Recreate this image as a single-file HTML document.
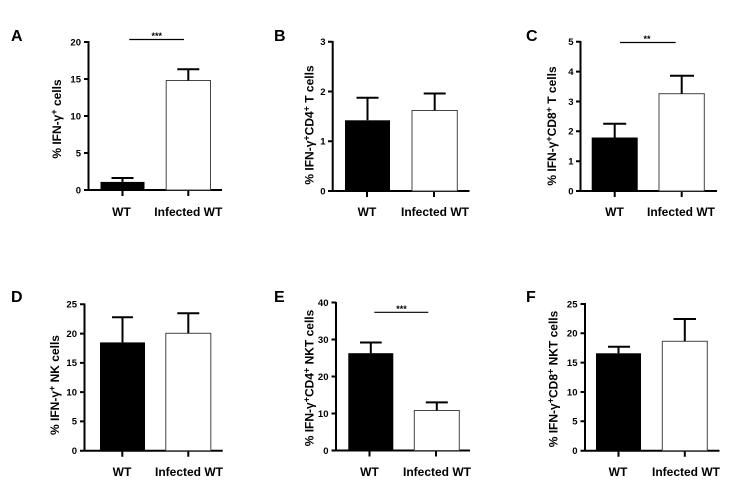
<!DOCTYPE html>
<html><head><meta charset="utf-8"><style>
html,body{margin:0;padding:0;background:#fff;}
svg{display:block;}
text{font-family:"Liberation Sans",Arial,sans-serif;font-weight:bold;fill:#000;}
.t{font-size:9.5px;text-anchor:end;}
.xl{font-size:12px;text-anchor:middle;}
.yl{font-size:12px;text-anchor:middle;}
.pl{font-size:16px;}
.st{font-size:9px;text-anchor:middle;}
.ax{stroke:#000;stroke-width:2;fill:none;}
.eb{stroke:#000;stroke-width:2;fill:none;}
.wb{fill:#fff;stroke:#444;stroke-width:1;}
.bb{fill:#000;}
.sg{stroke:#000;stroke-width:1.2;}
</style></head><body>
<svg width="744" height="503" viewBox="0 0 744 503" xmlns="http://www.w3.org/2000/svg">

<!-- Panel A -->
<text class="pl" x="11" y="41">A</text>
<path class="ax" d="M88.5,41 V190 H222 M84,42 H88.5 M84,79 H88.5 M84,116 H88.5 M84,153 H88.5 M84,190 H88.5 M122.5,190 V196 M188.3,190 V196"/>
<text class="t" x="81" y="45.3">20</text>
<text class="t" x="81" y="82.3">15</text>
<text class="t" x="81" y="119.3">10</text>
<text class="t" x="81" y="156.3">5</text>
<text class="t" x="81" y="193.3">0</text>
<rect class="bb" x="100.5" y="181.9" width="44" height="8.1"/>
<path class="eb" d="M122.5,181.9 V178 M111.5,178 H133.5"/>
<rect class="wb" x="166.2" y="80.5" width="44.3" height="109.5"/>
<path class="eb" d="M188.3,80.5 V69.3 M177.3,69.3 H199.3"/>
<line class="sg" x1="129.3" y1="39.5" x2="184" y2="39.5"/>
<text class="st" x="156.7" y="39">***</text>
<text class="yl" transform="translate(61,119) rotate(-90)">% IFN-γ<tspan font-size="9" dy="-4">+</tspan><tspan dy="4"> cells</tspan></text>
<text class="xl" x="121.5" y="216">WT</text>
<text class="xl" x="188.3" y="216">Infected WT</text>

<!-- Panel B -->
<text class="pl" x="274" y="41">B</text>
<path class="ax" d="M332.7,41 V191 H469.5 M328,41.7 H332.7 M328,91.5 H332.7 M328,141.3 H332.7 M328,191 H332.7 M367,191 V197 M434,191 V197"/>
<text class="t" x="325.5" y="45">3</text>
<text class="t" x="325.5" y="94.8">2</text>
<text class="t" x="325.5" y="144.6">1</text>
<text class="t" x="325.5" y="194.3">0</text>
<rect class="bb" x="345" y="120.3" width="45" height="70.7"/>
<path class="eb" d="M367.5,120.3 V97.7 M356.5,97.7 H378.5"/>
<rect class="wb" x="412" y="110.5" width="45.3" height="80.5"/>
<path class="eb" d="M434.7,110.5 V93.5 M423.7,93.5 H445.7"/>
<text class="yl" transform="translate(313.5,125) rotate(-90)">% IFN-γ<tspan font-size="9" dy="-4">+</tspan><tspan dy="4">CD4</tspan><tspan font-size="9" dy="-4">+</tspan><tspan dy="4"> T cells</tspan></text>
<text class="xl" x="367" y="216">WT</text>
<text class="xl" x="435" y="216">Infected WT</text>

<!-- Panel C -->
<text class="pl" x="526" y="41">C</text>
<path class="ax" d="M580.5,41 V191 H717 M576,41.7 H580.5 M576,71.6 H580.5 M576,101.5 H580.5 M576,131.3 H580.5 M576,161.2 H580.5 M576,191 H580.5 M614.7,191 V197 M681.7,191 V197"/>
<text class="t" x="573.5" y="45">5</text>
<text class="t" x="573.5" y="74.9">4</text>
<text class="t" x="573.5" y="104.8">3</text>
<text class="t" x="573.5" y="134.6">2</text>
<text class="t" x="573.5" y="164.5">1</text>
<text class="t" x="573.5" y="194.3">0</text>
<rect class="bb" x="591.7" y="137.5" width="46" height="53.5"/>
<path class="eb" d="M614.7,137.5 V123.7 M603.2,123.7 H626.2"/>
<rect class="wb" x="659" y="93.7" width="45.3" height="97.3"/>
<path class="eb" d="M681.7,93.7 V75.7 M670,75.7 H694"/>
<line class="sg" x1="620" y1="42.5" x2="675.7" y2="42.5"/>
<text class="st" x="647" y="42">**</text>
<text class="yl" transform="translate(556,126) rotate(-90)">% IFN-γ<tspan font-size="9" dy="-4">+</tspan><tspan dy="4">CD8</tspan><tspan font-size="9" dy="-4">+</tspan><tspan dy="4"> T cells</tspan></text>
<text class="xl" x="614.5" y="216">WT</text>
<text class="xl" x="681" y="216">Infected WT</text>

<!-- Panel D -->
<text class="pl" x="11" y="302">D</text>
<path class="ax" d="M84.5,303.5 V450.7 H222.7 M80,304.3 H84.5 M80,333.6 H84.5 M80,362.9 H84.5 M80,392.1 H84.5 M80,421.4 H84.5 M80,450.7 H84.5 M122.3,450.7 V456.7 M188.3,450.7 V456.7"/>
<text class="t" x="77" y="307.6">25</text>
<text class="t" x="77" y="336.9">20</text>
<text class="t" x="77" y="366.2">15</text>
<text class="t" x="77" y="395.4">10</text>
<text class="t" x="77" y="424.7">5</text>
<text class="t" x="77" y="454">0</text>
<rect class="bb" x="100" y="342.4" width="45" height="108.3"/>
<path class="eb" d="M122.5,342.4 V317.3 M112,317.3 H133"/>
<rect class="wb" x="165.8" y="333.3" width="45" height="117.4"/>
<path class="eb" d="M188.3,333.3 V313.3 M177.3,313.3 H199.3"/>
<text class="yl" transform="translate(59,385) rotate(-90)">% IFN-γ<tspan font-size="9" dy="-4">+</tspan><tspan dy="4"> NK cells</tspan></text>
<text class="xl" x="122" y="476">WT</text>
<text class="xl" x="189" y="476">Infected WT</text>

<!-- Panel E -->
<text class="pl" x="274" y="302">E</text>
<path class="ax" d="M336,302 V450.5 H470 M331.5,302.5 H336 M331.5,339.5 H336 M331.5,376.5 H336 M331.5,413.5 H336 M331.5,450.5 H336 M369.5,450.5 V456.5 M436,450.5 V456.5"/>
<text class="t" x="328.5" y="305.8">40</text>
<text class="t" x="328.5" y="342.8">30</text>
<text class="t" x="328.5" y="379.8">20</text>
<text class="t" x="328.5" y="416.8">10</text>
<text class="t" x="328.5" y="453.8">0</text>
<rect class="bb" x="348.3" y="353.2" width="45" height="97.3"/>
<path class="eb" d="M370.8,353.2 V342.5 M360,342.5 H381.7"/>
<rect class="wb" x="414.3" y="410.5" width="45" height="40"/>
<path class="eb" d="M436.8,410.5 V402.4 M425.8,402.4 H447.8"/>
<line class="sg" x1="374.3" y1="312.3" x2="428.3" y2="312.3"/>
<text class="st" x="401.5" y="312">***</text>
<text class="yl" transform="translate(313.5,378) rotate(-90)">% IFN-γ<tspan font-size="9" dy="-4">+</tspan><tspan dy="4">CD4</tspan><tspan font-size="9" dy="-4">+</tspan><tspan dy="4"> NKT cells</tspan></text>
<text class="xl" x="369.5" y="476">WT</text>
<text class="xl" x="437" y="476">Infected WT</text>

<!-- Panel F -->
<text class="pl" x="526" y="302">F</text>
<path class="ax" d="M585,303 V450.7 H719.5 M580.5,304 H585 M580.5,333.3 H585 M580.5,362.6 H585 M580.5,392 H585 M580.5,421.3 H585 M580.5,450.7 H585 M618.5,450.7 V456.7 M684.8,450.7 V456.7"/>
<text class="t" x="577.5" y="307.3">25</text>
<text class="t" x="577.5" y="336.6">20</text>
<text class="t" x="577.5" y="365.9">15</text>
<text class="t" x="577.5" y="395.3">10</text>
<text class="t" x="577.5" y="424.6">5</text>
<text class="t" x="577.5" y="454">0</text>
<rect class="bb" x="596" y="353.3" width="45" height="97.4"/>
<path class="eb" d="M618.5,353.3 V346.7 M608,346.7 H630"/>
<rect class="wb" x="662.3" y="341.3" width="45" height="109.4"/>
<path class="eb" d="M684.8,341.3 V319 M673.5,319 H696"/>
<text class="yl" transform="translate(557.5,379) rotate(-90)">% IFN-γ<tspan font-size="9" dy="-4">+</tspan><tspan dy="4">CD8</tspan><tspan font-size="9" dy="-4">+</tspan><tspan dy="4"> NKT cells</tspan></text>
<text class="xl" x="618" y="476">WT</text>
<text class="xl" x="686" y="476">Infected WT</text>

</svg>
</body></html>
